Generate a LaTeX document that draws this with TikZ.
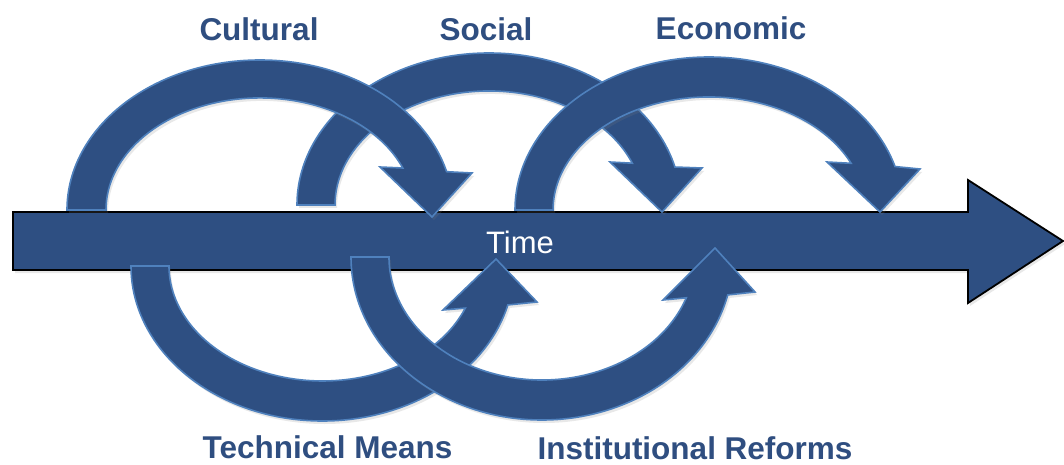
\documentclass[tikz,border=0pt]{standalone}
\usepackage{fontspec}
\setmainfont{Liberation Sans}
\usetikzlibrary{shadows}
\definecolor{navy}{RGB}{46,79,130}
\definecolor{edgeblue}{RGB}{79,129,189}
\definecolor{labelblue}{RGB}{47,78,128}
\begin{document}
\begin{tikzpicture}[x=1pt,y=1pt,
  band/.style={fill=navy, draw=edgeblue, line width=1.6pt, line join=miter,
    drop shadow={opacity=0.18, shadow xshift=2pt, shadow yshift=-3pt}},
  timearrow/.style={fill=navy, draw=black, line width=1.8pt, line join=miter,
    drop shadow={opacity=0.18, shadow xshift=2pt, shadow yshift=-3pt}},
  lbl/.style={text=labelblue, font=\fontsize{31.5}{36}\selectfont\bfseries, anchor=base, inner sep=0pt},
  timelbl/.style={text=white, font=\fontsize{31}{36}\selectfont, anchor=base, inner sep=0pt}]
\useasboundingbox (0,0) rectangle (1064,464);
\fill[white] (0,0) rectangle (1064,464);

% Time arrow
\path[timearrow] (13,194) -- (13,252) -- (968,252) -- (968,284) -- (1063,223) -- (968,161) -- (968,194) -- cycle;

% Social (behind Cultural and Economic)
\path[band] (297,259) arc[start angle=180, end angle=14.47, x radius=192, y radius=152]
  -- (702,296) -- (662,252) -- (610,302) -- (632.3,300.8)
  arc[start angle=21.5, end angle=180, x radius=154, y radius=114] -- cycle;

% Cultural
\path[band] (67,254) arc[start angle=180, end angle=14.8, x radius=193, y radius=150]
  -- (472,291) -- (432,247) -- (380,297) -- (402.8,296)
  arc[start angle=22, end angle=180, x radius=154, y radius=112] -- cycle;

% Economic
\path[band] (515,254) arc[start angle=180, end angle=16.5, x radius=194, y radius=153]
  -- (920,295) -- (880,252) -- (827,302) -- (851.1,300.7)
  arc[start angle=24.4, end angle=180, x radius=156, y radius=113] -- cycle;

% Technical Means
\path[band] (131,198) arc[start angle=180, end angle=345.44, x radius=191.5, y radius=155]
  -- (537,162) -- (496,205) -- (443,154) -- (465.3,155.9)
  arc[start angle=338.5, end angle=180, x radius=153.5, y radius=115] -- cycle;

% Institutional Reforms
\path[band] (351,207) arc[start angle=180, end angle=346.54, x radius=191, y radius=163]
  -- (755,172) -- (715,216) -- (663,164) -- (686.3,166.2)
  arc[start angle=340.62, end angle=180, x radius=153, y radius=123] -- cycle;

% Labels
\node[lbl] (cultural) at (259,423) {Cultural};
\node[lbl] (social) at (486,423) {Social};
\node[lbl] (economic) at (731,424) {Economic};
\node[lbl] (technical) at (327.5,6) {Technical Means};
\node[lbl] (institutional) at (695,5) {Institutional Reforms};
\node[timelbl] (time) at (520,211) {Time};
\end{tikzpicture}
\end{document}
